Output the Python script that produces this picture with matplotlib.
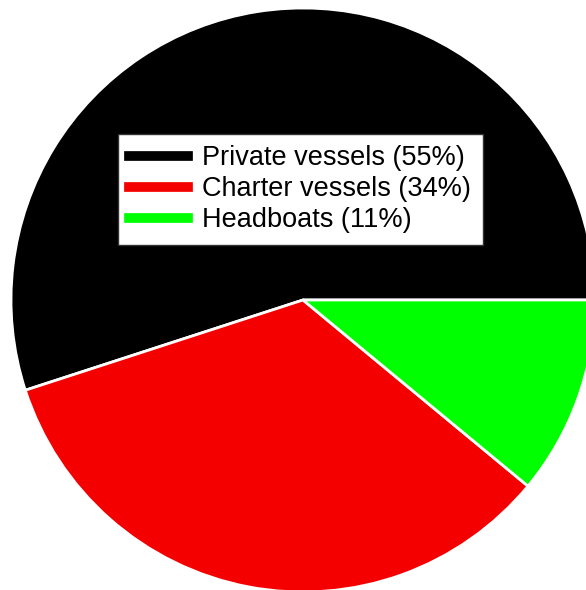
import matplotlib.pyplot as plt
from matplotlib.lines import Line2D

plt.rcParams['font.family'] = ['Liberation Sans', 'DejaVu Sans']

categories = ['Private vessels', 'Charter vessels', 'Headboats']
shares = [55, 34, 11]
colors = ['#000000', '#f50000', '#00ff00']

fig = plt.figure(figsize=(5.86, 5.90), dpi=100)
ax = fig.add_axes([0, 0, 1, 1])

ax.pie(shares, colors=colors, startangle=0, counterclock=True, radius=1,
       wedgeprops=dict(edgecolor='white', linewidth=2))

# pie is slightly off-centre and clipped on the right
ax.set_xlim(-303 / 292, 283 / 292)
ax.set_ylim(-290 / 292, 300 / 292)
ax.set_aspect('auto')
ax.axis('off')

handles = [Line2D([0], [0], color=c, lw=7) for c in colors]
labels = [f'{n} ({s}%)' for n, s in zip(categories, shares)]
leg = ax.legend(handles, labels, loc='upper left',
                bbox_to_anchor=(118 / 586, 1 - 134 / 590),
                bbox_transform=fig.transFigure, borderaxespad=0,
                fontsize=19.5, frameon=True, fancybox=False,
                handlelength=2.15, handletextpad=0.55, labelspacing=0.18,
                borderpad=0.42)
leg.get_frame().set_edgecolor('#333333')
leg.get_frame().set_linewidth(1)
leg.get_frame().set_alpha(1)

fig.savefig('out.png', dpi=100)
